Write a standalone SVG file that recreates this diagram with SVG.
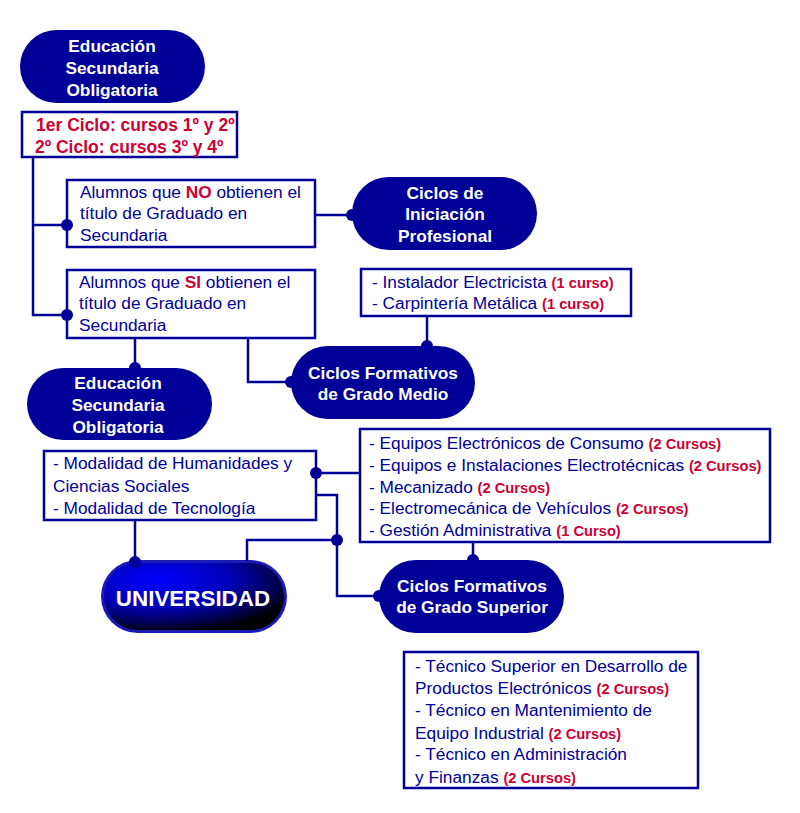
<svg xmlns="http://www.w3.org/2000/svg" width="800" height="813" viewBox="0 0 800 813">
<defs>
<radialGradient id="uniGrad" cx="0.3" cy="0.25" r="0.8" fx="0.3" fy="0.25">
<stop offset="0" stop-color="#0000ff"/>
<stop offset="0.5" stop-color="#0000b8"/>
<stop offset="0.82" stop-color="#000050"/>
<stop offset="1" stop-color="#000000"/>
</radialGradient>
<style>
.pill{fill:#000099;}
.box{fill:#ffffff;stroke:#000099;stroke-width:2.5;}
.wire{fill:none;stroke:#000099;stroke-width:2.5;}
.dot{fill:#000099;}
.pt{font-family:"Liberation Sans",Arial,sans-serif;font-size:17.3px;font-weight:bold;fill:#ffffff;text-anchor:middle;}
.bt{font-family:"Liberation Sans",Arial,sans-serif;font-size:17.3px;fill:#000099;}
.rb{font-family:"Liberation Sans",Arial,sans-serif;font-size:17.5px;font-weight:bold;fill:#cc0033;}
.rs{font-weight:bold;fill:#cc0033;font-size:14.7px;}
.r{font-weight:bold;fill:#cc0033;}
</style>
</defs>
<rect width="800" height="813" fill="#ffffff"/>

<g id="eso1">
<rect class="pill" x="20" y="30" width="185" height="73" rx="36.5"/>
<text class="pt" x="112" y="52">Educación</text>
<text class="pt" x="112" y="74">Secundaria</text>
<text class="pt" x="112" y="96">Obligatoria</text>
</g>

<g id="ciclos">
<rect class="box" x="22" y="112" width="215" height="45"/>
<text class="rb" x="36" y="131">1er Ciclo: cursos 1º y 2º</text>
<text class="rb" x="35" y="153">2º Ciclo: cursos 3º y 4º</text>
</g>

<g id="no">
<rect class="box" x="67" y="180" width="248" height="67"/>
<text class="bt" x="80" y="198">Alumnos que <tspan class="r">NO</tspan> obtienen el</text>
<text class="bt" x="80" y="219">título de Graduado en</text>
<text class="bt" x="80" y="241">Secundaria</text>
</g>

<g id="iniciacion">
<rect class="pill" x="352" y="177" width="185" height="73" rx="36.5"/>
<text class="pt" x="445" y="199">Ciclos de</text>
<text class="pt" x="445" y="220">Iniciación</text>
<text class="pt" x="445" y="242">Profesional</text>
</g>

<g id="instalador">
<rect class="box" x="361" y="269" width="270" height="47"/>
<text class="bt" x="372" y="288">- Instalador Electricista <tspan class="rs">(1 curso)</tspan></text>
<text class="bt" x="372" y="309">- Carpintería Metálica <tspan class="rs">(1 curso)</tspan></text>
</g>

<g id="si">
<rect class="box" x="67" y="270" width="248" height="68"/>
<text class="bt" x="79" y="288">Alumnos que <tspan class="r">SI</tspan> obtienen el</text>
<text class="bt" x="79" y="309">título de Graduado en</text>
<text class="bt" x="79" y="331">Secundaria</text>
</g>

<g id="eso2">
<rect class="pill" x="27" y="368" width="185" height="72" rx="36"/>
<text class="pt" x="118" y="389">Educación</text>
<text class="pt" x="118" y="411">Secundaria</text>
<text class="pt" x="118" y="433">Obligatoria</text>
</g>

<g id="gradomedio">
<rect class="pill" x="291" y="346" width="184" height="73" rx="36.5"/>
<text class="pt" x="383" y="379">Ciclos Formativos</text>
<text class="pt" x="383" y="400">de Grado Medio</text>
</g>

<g id="modalidad">
<rect class="box" x="44" y="451" width="272" height="69"/>
<text class="bt" x="53" y="469">- Modalidad de Humanidades y</text>
<text class="bt" x="53" y="492">Ciencias Sociales</text>
<text class="bt" x="53" y="514">- Modalidad de Tecnología</text>
</g>

<g id="equipos">
<rect class="box" x="360" y="429" width="410" height="113"/>
<text class="bt" x="369" y="449">- Equipos Electrónicos de Consumo <tspan class="rs">(2 Cursos)</tspan></text>
<text class="bt" x="369" y="471">- Equipos e Instalaciones Electrotécnicas <tspan class="rs">(2 Cursos)</tspan></text>
<text class="bt" x="369" y="493">- Mecanizado <tspan class="rs">(2 Cursos)</tspan></text>
<text class="bt" x="369" y="514">- Electromecánica de Vehículos <tspan class="rs">(2 Cursos)</tspan></text>
<text class="bt" x="369" y="536">- Gestión Administrativa <tspan class="rs">(1 Curso)</tspan></text>
</g>

<g id="universidad">
<rect x="101" y="560" width="186" height="73" rx="36.5" fill="#1a1ab4"/>
<rect x="104" y="563" width="180" height="67" rx="33.5" fill="url(#uniGrad)"/>
<text class="pt" x="193" y="606" style="font-size:22.4px">UNIVERSIDAD</text>
</g>

<g id="gradosuperior">
<rect class="pill" x="379" y="560" width="185" height="73" rx="36.5"/>
<text class="pt" x="472" y="592">Ciclos Formativos</text>
<text class="pt" x="472" y="613">de Grado Superior</text>
</g>

<g id="tecnico">
<rect class="box" x="404" y="652" width="294" height="136"/>
<text class="bt" x="415" y="672">- Técnico Superior en Desarrollo de</text>
<text class="bt" x="415" y="694">Productos Electrónicos <tspan class="rs">(2 Cursos)</tspan></text>
<text class="bt" x="415" y="716">- Técnico en Mantenimiento de</text>
<text class="bt" x="415" y="739">Equipo Industrial <tspan class="rs">(2 Cursos)</tspan></text>
<text class="bt" x="415" y="760">- Técnico en Administración</text>
<text class="bt" x="415" y="783">y Finanzas <tspan class="rs">(2 Cursos)</tspan></text>
</g>

<g id="connectors">
<polyline class="wire" points="33,157 33,315 67,315"/>
<line class="wire" x1="33" y1="225" x2="67" y2="225"/>
<line class="wire" x1="315" y1="215" x2="352" y2="215"/>
<line class="wire" x1="427" y1="316" x2="427" y2="346"/>
<line class="wire" x1="135" y1="338" x2="135" y2="368"/>
<polyline class="wire" points="248,338 248,382 291,382"/>
<line class="wire" x1="316" y1="473" x2="360" y2="473"/>
<polyline class="wire" points="316,495 337,495 337,596 379,596"/>
<polyline class="wire" points="247,561 247,540 337,540"/>
<line class="wire" x1="135" y1="520" x2="135" y2="562"/>
<line class="wire" x1="473" y1="542" x2="473" y2="560"/>
<circle class="dot" cx="67" cy="225" r="6"/>
<circle class="dot" cx="67" cy="315" r="6"/>
<circle class="dot" cx="352" cy="215" r="6"/>
<circle class="dot" cx="427" cy="346" r="6"/>
<circle class="dot" cx="135" cy="368" r="6"/>
<circle class="dot" cx="291" cy="382" r="6"/>
<circle class="dot" cx="316" cy="473" r="6"/>
<circle class="dot" cx="379" cy="596" r="6"/>
<circle class="dot" cx="337" cy="540" r="6"/>
<circle class="dot" cx="473" cy="560" r="6"/>
<circle class="dot" cx="135" cy="562" r="6"/>
</g>
</svg>
